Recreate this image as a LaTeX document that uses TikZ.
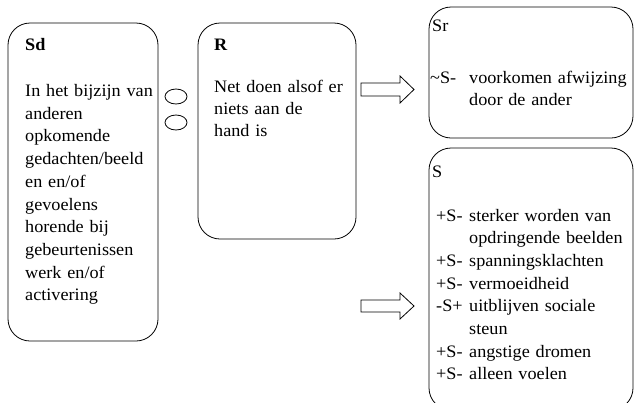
\documentclass[tikz,border=0pt]{standalone}
\usepackage{fontspec}
\setmainfont[FakeStretch=1.04]{Liberation Serif}
\usetikzlibrary{shapes.geometric}
\newcommand\pfxbox[2]{\makebox[#1][l]{#2}}
\begin{document}
\begin{tikzpicture}[x=1pt,y=-1pt,
  box/.style={draw, line width=0.8pt, rounded corners=22pt, inner sep=0pt, outer sep=0pt, anchor=north west},
  txt/.style={anchor=base west, inner sep=0pt, text width=210pt, align=left,
    font=\fontsize{17.5}{22.7}\selectfont},
  blockarrow/.style={draw, line width=0.8pt, fill=white},
  ring/.style={draw, line width=0.8pt, ellipse, minimum width=22pt, minimum height=15pt, inner sep=0pt}]
\clip (0,0) rectangle (634,402);
\fill[white] (0,0) rectangle (634,402);
% boxes
\node[box, minimum width=150pt, minimum height=318pt] (sd) at (8,23) {};
\node[box, minimum width=158pt, minimum height=216pt] (r) at (198,23) {};
\node[box, minimum width=204pt, minimum height=131pt] (sr) at (429,7) {};
\node[box, minimum width=204pt, minimum height=262pt] (s) at (429,148) {};
% texts
\node[txt] (sdt) at (25,50) {\textbf{Sd}};
\node[txt, text width=140pt] (sdx) at (25,96.5) {In het bijzijn van\\anderen\\opkomende\\gedachten/beeld\\en en/of\\gevoelens\\horende bij\\gebeurtenissen\\werk en/of\\activering};
\node[txt] (rt) at (214,50) {\textbf{R}};
\node[txt, text width=150pt, font=\fontsize{17.5}{22}\selectfont] (rx) at (214,92.5) {Net doen alsof er\\niets aan de\\hand is};
\node[txt] (srt) at (432,31) {Sr};
\node[txt] (srx) at (430,83) {\pfxbox{39pt}{\textasciitilde S-}voorkomen afwijzing\\\hspace*{39pt}door de ander};
\node[txt] (st) at (432,177) {S};
\node[txt] (sx) at (436,221) {\pfxbox{33pt}{+S-}sterker worden van\\\hspace*{33pt}opdringende beelden\\\pfxbox{33pt}{+S-}spanningsklachten\\\pfxbox{33pt}{+S-}vermoeidheid\\\pfxbox{33pt}{-S+}uitblijven sociale\\\hspace*{33pt}steun\\\pfxbox{33pt}{+S-}angstige dromen\\\pfxbox{33pt}{+S-}alleen voelen};
% small ellipses
\node[ring] (o1) at (176,96.5) {};
\node[ring] (o2) at (176,122.5) {};
% block arrows
\draw[blockarrow] (361,83) -- (400,83) -- (400,76) -- (414,89.5) -- (400,103) -- (400,96) -- (361,96) -- cycle;
\draw[blockarrow] (361,300) -- (400,300) -- (400,293) -- (414,306) -- (400,319) -- (400,312) -- (361,312) -- cycle;
\end{tikzpicture}
\end{document}
